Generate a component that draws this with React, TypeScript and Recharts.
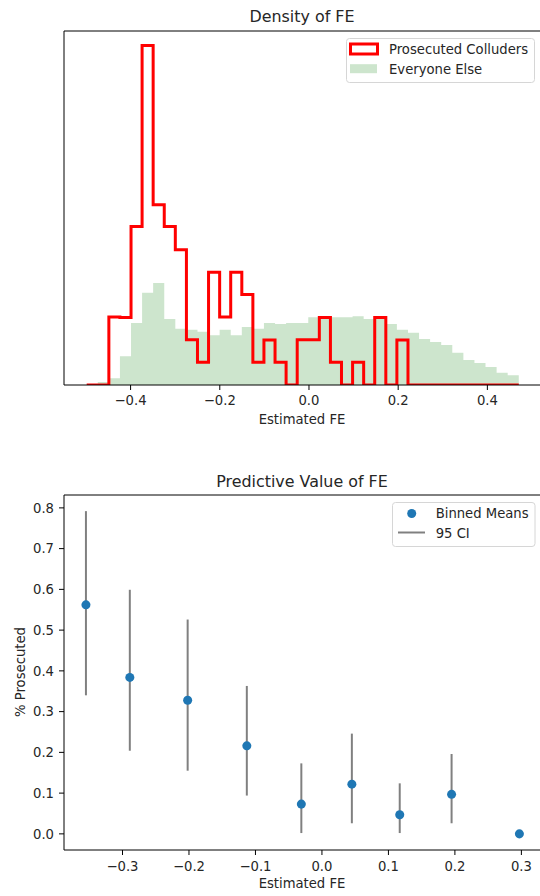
import React from 'react';
import { ComposedChart, Area, Line, Scatter, ErrorBar, XAxis, YAxis, Legend } from 'recharts';

// ---- Histogram ("Density of FE") ----
const FE_BIN_EDGES = [
  -0.4984, -0.4736, -0.4487, -0.4239, -0.399, -0.3742, -0.3494, -0.3245, -0.2997, -0.2748,
  -0.25, -0.2252, -0.2003, -0.1755, -0.1506, -0.1258, -0.101, -0.0761, -0.0513, -0.0264,
  -0.0016, 0.0232, 0.0481, 0.0729, 0.0978, 0.1226, 0.1474, 0.1723, 0.1971, 0.222,
  0.2468, 0.2716, 0.2965, 0.3213, 0.3462, 0.371, 0.3958, 0.4207, 0.4455, 0.4704,
];
const COLLUDER_COUNTS = [
  0, 0, 3, 3, 7, 15, 8, 7, 6, 2,
  1, 5, 3, 5, 4, 1, 2, 1, 0, 2,
  2, 3, 1, 0, 1, 0, 3, 0, 2, 0,
  0, 0, 0, 0, 0, 0, 0, 0, 0,
];
const EVERYONE_ELSE_DENSITY = [
  0, 0.06, 0.14, 0.59, 1.27, 1.89, 2.09, 1.35, 1.15, 1.13,
  1.09, 1.02, 1.13, 1.02, 1.19, 1.15, 1.27, 1.25, 1.27, 1.27,
  1.39, 1.39, 1.39, 1.39, 1.41, 1.35, 1.39, 1.25, 1.13, 1.07,
  0.94, 0.88, 0.82, 0.66, 0.51, 0.45, 0.37, 0.25, 0.2,
];
const HIST_X_TICKS = [-0.4, -0.2, 0, 0.2, 0.4];

// ---- Binned means ("Predictive Value of FE") ----
const BIN_CENTERS = [-0.355, -0.289, -0.202, -0.113, -0.031, 0.045, 0.117, 0.195, 0.297];
const BINNED_MEANS = [0.562, 0.384, 0.328, 0.216, 0.073, 0.122, 0.047, 0.097, 0.0];
const CI_LOW: (number | null)[] = [0.34, 0.204, 0.155, 0.094, 0.002, 0.026, 0.002, 0.026, null];
const CI_HIGH: (number | null)[] = [0.792, 0.599, 0.526, 0.363, 0.173, 0.246, 0.124, 0.196, null];
const PRED_X_TICKS = [-0.3, -0.2, -0.1, 0, 0.1, 0.2, 0.3];
const PRED_Y_TICKS = [0, 0.1, 0.2, 0.3, 0.4, 0.5, 0.6, 0.7, 0.8];

const FONT = "'DejaVu Sans', sans-serif";
const TEXT = '#262626';
const TICK_FS = 13.2;
const TITLE_FS = 15.9;

const totalColluders = COLLUDER_COUNTS.reduce((a, b) => a + b, 0);
const histData = FE_BIN_EDGES.map((x, i) => {
  const k = Math.min(i, COLLUDER_COUNTS.length - 1);
  const w = FE_BIN_EDGES[k + 1] - FE_BIN_EDGES[k];
  return {
    x,
    everyone: EVERYONE_ELSE_DENSITY[k],
    colluders: COLLUDER_COUNTS[k] / (totalColluders * w),
  };
});

const predData = BIN_CENTERS.map((x, i) => {
  const lo = CI_LOW[i];
  const hi = CI_HIGH[i];
  return {
    x,
    y: BINNED_MEANS[i],
    ci: lo == null || hi == null ? null : [BINNED_MEANS[i] - lo, hi - BINNED_MEANS[i]],
  };
});

const fmt = (v: number) => (Math.abs(v) < 1e-9 ? '0.0' : v.toFixed(1).replace('-', '\u2212'));
const tickStyle = { fontFamily: FONT, fontSize: TICK_FS, fill: TEXT };
const black = { stroke: '#000', strokeWidth: 1 };

const HistLegend = () => (
  <svg width={190} height={46} style={{ display: 'block' }}>
    <rect x={0.5} y={0.5} width={188} height={44} rx={3} fill="#fff" fillOpacity={0.8} stroke="#d6d6d6" />
    <rect x={4.5} y={6} width={27} height={10} fill="#fff" stroke="#ff0000" strokeWidth={3} />
    <rect x={4} y={26.2} width={27} height={9} fill="#cde5cd" />
    <text x={43} y={16} fontFamily={FONT} fontSize={TICK_FS} fill={TEXT}>Prosecuted Colluders</text>
    <text x={43} y={36.2} fontFamily={FONT} fontSize={TICK_FS} fill={TEXT}>Everyone Else</text>
  </svg>
);

const PredLegend = () => (
  <svg width={145} height={46} style={{ display: 'block' }}>
    <rect x={0.5} y={0.5} width={142.5} height={44} rx={3} fill="#fff" fillOpacity={0.8} stroke="#d6d6d6" />
    <circle cx={19.7} cy={11.5} r={4.5} fill="#1f77b4" />
    <line x1={6} x2={33} y1={30.5} y2={30.5} stroke="#808080" strokeWidth={2} />
    <text x={43.7} y={16.3} fontFamily={FONT} fontSize={TICK_FS} fill={TEXT}>Binned Means</text>
    <text x={43.7} y={35.5} fontFamily={FONT} fontSize={TICK_FS} fill={TEXT}>95 CI</text>
  </svg>
);

export default function App() {
  return (
    <div style={{ position: 'absolute', left: 0, top: 0, width: 540, height: 896, background: '#fff', overflow: 'hidden' }}>
      <div style={{ position: 'absolute', left: 0, top: 0 }}>
        <ComposedChart width={540} height={440} data={histData} margin={{ top: 30, right: 0, left: 0, bottom: 15 }}>
          <XAxis
            dataKey="x"
            type="number"
            domain={[-0.5493, 0.518]}
            allowDataOverflow
            ticks={HIST_X_TICKS}
            interval={0}
            tickFormatter={fmt}
            height={40}
            tickSize={5}
            tickMargin={6}
            tick={tickStyle}
            axisLine={black}
            tickLine={black}
          />
          <XAxis xAxisId="top" orientation="top" dataKey="x" type="number" domain={[-0.5493, 0.518]} allowDataOverflow height={1} tick={false} tickLine={false} axisLine={black} />
          <YAxis type="number" domain={[0, 7.25]} allowDataOverflow width={64} tick={false} tickLine={false} axisLine={black} />
          <Area
            type="stepAfter"
            dataKey="everyone"
            stroke="none"
            fill="#cde5cd"
            fillOpacity={1}
            dot={false}
            activeDot={false}
            isAnimationActive={false}
          />
          <Line
            type="stepAfter"
            dataKey="colluders"
            stroke="#ff0000"
            strokeWidth={3}
            strokeLinejoin="miter"
            dot={false}
            activeDot={false}
            isAnimationActive={false}
          />
          <Legend
            layout="vertical"
            align="center"
            verticalAlign="middle"
            wrapperStyle={{ left: 346, top: 37.5, width: 190, height: 46 }}
            content={() => <HistLegend />}
          />
        </ComposedChart>
      </div>
      <div style={{ position: 'absolute', left: 0, top: 450 }}>
        <ComposedChart width={540} height={446} margin={{ top: 44, right: 0, left: 0, bottom: 6 }}>
          <XAxis
            dataKey="x"
            type="number"
            domain={[-0.388, 0.328]}
            allowDataOverflow
            ticks={PRED_X_TICKS}
            interval={0}
            tickFormatter={fmt}
            height={40}
            tickSize={5}
            tickMargin={7}
            tick={tickStyle}
            axisLine={black}
            tickLine={black}
          />
          <XAxis xAxisId="top" orientation="top" dataKey="x" type="number" domain={[-0.388, 0.328]} allowDataOverflow height={1} tick={false} tickLine={false} axisLine={black} />
          <YAxis
            type="number"
            dataKey="y"
            domain={[-0.0396, 0.8316]}
            allowDataOverflow
            ticks={PRED_Y_TICKS}
            interval={0}
            tickFormatter={fmt}
            width={64}
            tickSize={5}
            tickMargin={5}
            tick={tickStyle}
            axisLine={black}
            tickLine={black}
          />
          <Scatter data={predData} dataKey="y" fill="#1f77b4" isAnimationActive={false}>
            <ErrorBar dataKey="ci" direction="y" width={0} stroke="#808080" strokeWidth={2} isAnimationActive={false} />
          </Scatter>
          <Legend
            layout="vertical"
            align="center"
            verticalAlign="middle"
            wrapperStyle={{ left: 392, top: 51.5, width: 145, height: 46 }}
            content={() => <PredLegend />}
          />
        </ComposedChart>
      </div>
      <svg width={540} height={896} style={{ position: 'absolute', left: 0, top: 0, pointerEvents: 'none' }}>
        <text x={302} y={21.5} textAnchor="middle" fontFamily={FONT} fontSize={TITLE_FS} fill={TEXT}>Density of FE</text>
        <text x={302} y={424} textAnchor="middle" fontFamily={FONT} fontSize={TICK_FS} fill={TEXT}>Estimated FE</text>
        <text x={302} y={486.5} textAnchor="middle" fontFamily={FONT} fontSize={TITLE_FS} fill={TEXT}>Predictive Value of FE</text>
        <text x={302} y={888} textAnchor="middle" fontFamily={FONT} fontSize={TICK_FS} fill={TEXT}>Estimated FE</text>
        <text x={25} y={672} textAnchor="middle" transform="rotate(-90 25 672)" fontFamily={FONT} fontSize={TICK_FS} fill={TEXT}>% Prosecuted</text>
      </svg>
    </div>
  );
}
